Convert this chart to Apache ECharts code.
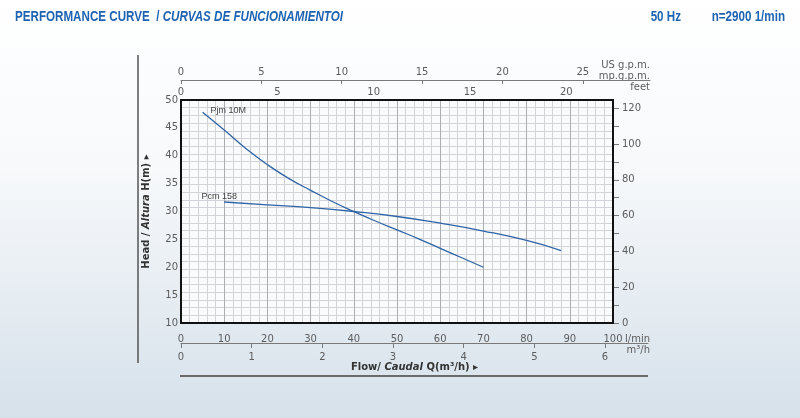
<!DOCTYPE html>
<html><head><meta charset="utf-8">
<script src="https://cdn.jsdelivr.net/npm/echarts@6/dist/echarts.min.js"></script>
<style>html,body{margin:0;padding:0;background:#fff}#c{width:800px;height:418px}</style>
</head><body><div id="c"></div>
<script>
// ---- data ----
const pjmFlow = [5, 10, 15, 20, 25, 30, 35, 40, 45, 50, 55, 60, 65, 70];          // l/min
const pjmHead = [47.8, 44.6, 41.3, 38.4, 35.9, 33.8, 31.8, 30.0, 28.3, 26.7, 25.1, 23.4, 21.7, 20.0]; // m
const pcmFlow = [10, 20, 30, 40, 50, 60, 70, 80, 88];
const pcmHead = [31.7, 31.2, 30.7, 30.0, 29.1, 27.9, 26.5, 24.8, 23.0];
const lminTicks = [0, 10, 20, 30, 40, 50, 60, 70, 80, 90, 100];
const m3hTicks = [0, 1, 2, 3, 4, 5, 6];
const usGpmTicks = [0, 5, 10, 15, 20, 25];
const impGpmTicks = [0, 5, 10, 15, 20];
const headTicks = [10, 15, 20, 25, 30, 35, 40, 45, 50];
const feetTicks = [0, 20, 40, 60, 80, 100, 120];
const feetMinorTicks = [0, 10, 20, 30, 40, 50, 60, 70, 80, 90, 100, 110, 120];
const seriesNames = ['Pjm 10M', 'Pcm 158'];

const chart = echarts.init(document.getElementById('c'), null, {renderer: 'canvas'});
const F = 'DejaVu Sans';
const LBL = {fontFamily: F, fontSize: 10, color: '#5c5c5c'};
const BLUE = '#1e63b2';
const CURVE = '#2f64a6';
const gridMinor = '#d2d3d8';
const gridMajor = '#abadb3';
const TF = 'bold 14px "Liberation Sans"';
const TFI = 'italic bold 14px "Liberation Sans"';

function curveData(flow, head, name, lblPos, lblOff) {
  return flow.map((f, i) => {
    const d = {value: [f, head[i]]};
    if (i === 0) d.label = {show: true, formatter: name, position: lblPos, offset: lblOff,
      fontFamily: 'Liberation Sans', fontSize: 9, color: '#444'};
    return d;
  });
}

const GRID = {left: 181, top: 100, width: 432, height: 223};
const option = {
  animation: false,
  backgroundColor: {type: 'linear', x: 0, y: 0, x2: 0, y2: 1,
    colorStops: [{offset: 0, color: '#ffffff'}, {offset: 0.4, color: '#f7f9fb'}, {offset: 1, color: '#d6e1ea'}]},
  grid: [
    Object.assign({show: true, borderWidth: 0, backgroundColor: '#f9fbfc'}, GRID),
    {left: 181, top: 333, width: 467, height: 10},
    {left: 181, top: 80, width: 469, height: 10},
    Object.assign({show: true, borderColor: '#111', borderWidth: 2, backgroundColor: 'transparent', z: 10}, GRID)
  ],
  xAxis: [
    {gridIndex: 0, type: 'value', min: 0, max: 100, interval: 10, position: 'bottom',
     axisLine: {show: false, onZero: false}, axisTick: {show: false},
     axisLabel: Object.assign({}, LBL, {margin: 11, customValues: lminTicks}),
     splitLine: {show: true, showMinLine: false, showMaxLine: false, lineStyle: {color: gridMajor, width: 1}},
     minorTick: {show: false, splitNumber: 5},
     minorSplitLine: {show: true, lineStyle: {color: gridMinor, width: 1}}},
    {gridIndex: 0, type: 'value', min: 0, max: 22.42, position: 'top',
     axisLine: {show: false, onZero: false}, axisTick: {show: false}, splitLine: {show: false},
     axisLabel: Object.assign({}, LBL, {margin: 3, customValues: impGpmTicks})},
    {gridIndex: 1, type: 'value', min: 0, max: 6.608, position: 'bottom',
     axisLine: {show: true, onZero: false, lineStyle: {color: '#7a7a7a', width: 1}},
     axisTick: {show: true, length: 5, customValues: m3hTicks, lineStyle: {color: '#7a7a7a'}},
     axisLabel: Object.assign({}, LBL, {margin: 9, customValues: m3hTicks}),
     splitLine: {show: false},
     name: '{b|Flow/ }{bi|Caudal}{b| Q(m³/h) ▸}', nameLocation: 'middle', nameGap: 19,
     nameTextStyle: {rich: {
       b: {fontFamily: F, fontSize: 10, fontWeight: 'bold', color: '#333'},
       bi: {fontFamily: F, fontSize: 10, fontWeight: 'bold', fontStyle: 'italic', color: '#333'}}}},
    {gridIndex: 2, type: 'value', min: 0, max: 29.18, position: 'top',
     axisLine: {show: true, onZero: false, lineStyle: {color: '#7a7a7a', width: 1}},
     axisTick: {show: true, inside: true, length: 4, customValues: usGpmTicks, lineStyle: {color: '#7a7a7a'}},
     axisLabel: Object.assign({}, LBL, {margin: 3, customValues: usGpmTicks}),
     splitLine: {show: false}},
    {gridIndex: 3, type: 'value', show: false, min: 0, max: 1}
  ],
  yAxis: [
    {gridIndex: 0, type: 'value', min: 10, max: 50, interval: 5, position: 'left',
     axisLine: {show: false, onZero: false}, axisTick: {show: false}, splitLine: {show: false},
     axisLabel: Object.assign({}, LBL, {margin: 3, customValues: headTicks}),
     name: '{b|Head / }{bi|Altura}{b| H(m) ▸}', nameLocation: 'middle', nameGap: 30, nameRotate: 90,
     nameTextStyle: {rich: {
       b: {fontFamily: F, fontSize: 10, fontWeight: 'bold', color: '#333'},
       bi: {fontFamily: F, fontSize: 10, fontWeight: 'bold', fontStyle: 'italic', color: '#333'}}}},
    {gridIndex: 0, type: 'value', min: 0, max: 124.6, position: 'right',
     axisLine: {show: true, onZero: false, lineStyle: {color: '#111', width: 2}},
     axisTick: {show: true, length: 6, customValues: feetMinorTicks, lineStyle: {color: '#7a7a7a'}},
     axisLabel: Object.assign({}, LBL, {margin: 9, customValues: feetTicks}),
     splitLine: {show: false}},
    {gridIndex: 1, type: 'value', show: false, min: 0, max: 1},
    {gridIndex: 2, type: 'value', show: false, min: 0, max: 1},
    {gridIndex: 3, type: 'value', min: 0, max: 29, interval: 1, position: 'left',
     axisLine: {show: false, onZero: false}, axisTick: {show: false}, axisLabel: {show: false},
     splitLine: {show: true, showMinLine: false, showMaxLine: false, lineStyle: {color: gridMinor, width: 1}}}
  ],
  series: [
    {name: seriesNames[0], type: 'line', xAxisIndex: 0, yAxisIndex: 0, smooth: true,
     symbol: 'circle', symbolSize: 0, showSymbol: true, z: 3,
     lineStyle: {color: CURVE, width: 1.3}, itemStyle: {color: CURVE},
     data: curveData(pjmFlow, pjmHead, seriesNames[0], 'right', [3, -2])},
    {name: seriesNames[1], type: 'line', xAxisIndex: 0, yAxisIndex: 0, smooth: true,
     symbol: 'circle', symbolSize: 0, showSymbol: true, z: 3,
     lineStyle: {color: CURVE, width: 1.3}, itemStyle: {color: CURVE},
     data: curveData(pcmFlow, pcmHead, seriesNames[1], 'top', [-5, 4])}
  ],
  graphic: [
    {type: 'text', x: 15, y: 17, scaleX: 0.83, style: {x: 0, y: 0, verticalAlign: 'middle',
      text: '{a|PERFORMANCE CURVE  / }{b|CURVAS DE FUNCIONAMIENTOI}',
      rich: {a: {font: TF, fill: BLUE}, b: {font: TFI, fill: BLUE}}}},
    {type: 'text', x: 681, y: 17, scaleX: 0.83, style: {x: 0, y: 0, align: 'right', verticalAlign: 'middle',
      text: '50 Hz', font: TF, fill: BLUE}},
    {type: 'text', x: 785, y: 17, scaleX: 0.83, style: {x: 0, y: 0, align: 'right', verticalAlign: 'middle',
      text: 'n=2900 1/min', font: TF, fill: BLUE}},
    {type: 'line', shape: {x1: 138, y1: 55, x2: 138, y2: 363}, style: {stroke: '#555', lineWidth: 1.5}},
    {type: 'line', shape: {x1: 180, y1: 376, x2: 648, y2: 376}, style: {stroke: '#6a6a6a', lineWidth: 2}},
    {type: 'text', x: 650, y: 65, style: {text: 'US g.p.m.', font: '10px "DejaVu Sans"', fill: '#5c5c5c', align: 'right', verticalAlign: 'middle'}},
    {type: 'text', x: 650, y: 76, style: {text: 'mp.g.p.m.', font: '10px "DejaVu Sans"', fill: '#5c5c5c', align: 'right', verticalAlign: 'middle'}},
    {type: 'text', x: 650, y: 87, style: {text: 'feet', font: '10px "DejaVu Sans"', fill: '#5c5c5c', align: 'right', verticalAlign: 'middle'}},
    {type: 'text', x: 650, y: 339, style: {text: 'l/min', font: '10px "DejaVu Sans"', fill: '#5c5c5c', align: 'right', verticalAlign: 'middle'}},
    {type: 'text', x: 650, y: 350, style: {text: 'm³/h', font: '10px "DejaVu Sans"', fill: '#5c5c5c', align: 'right', verticalAlign: 'middle'}}
  ]
};
chart.setOption(option);
</script>
</body></html>
